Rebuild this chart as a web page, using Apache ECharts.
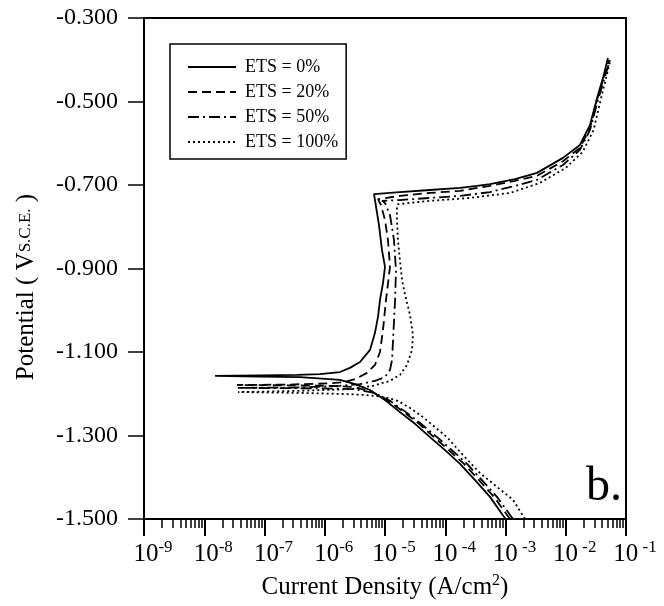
<!DOCTYPE html>
<html>
<head>
<meta charset="utf-8">
<script src="https://cdn.jsdelivr.net/npm/echarts@6/dist/echarts.min.js"></script>
<style>
html,body{margin:0;padding:0;background:#fff;}
#chart{width:664px;height:606px;}
</style>
</head>
<body>
<div id="chart"></div>
<script>
// ---- data: [current density (A/cm2), potential (V vs SCE)] ----
var seriesNames = ['ETS = 0%', 'ETS = 20%', 'ETS = 50%', 'ETS = 100%'];
var xTickExponents = [-9, -8, -7, -6, -5, -4, -3, -2, -1];
var yTicks = [-1.5, -1.3, -1.1, -0.9, -0.7, -0.5, -0.3];

var ets0 = [
  [1.0e-3,-1.500],[5.53e-4,-1.447],[3.12e-4,-1.407],[1.76e-4,-1.368],[9.91e-5,-1.335],
  [5.58e-5,-1.304],[3.15e-5,-1.272],[1.77e-5,-1.244],[1.0e-5,-1.215],[5.64e-6,-1.191],
  [3.18e-6,-1.177],[1.79e-6,-1.167],[3.88e-7,-1.160],[8.42e-8,-1.159],[1.51e-8,-1.157],
  [8.42e-8,-1.156],[3.46e-7,-1.155],[8.34e-7,-1.153],[1.79e-6,-1.148],[2.62e-6,-1.138],
  [3.85e-6,-1.124],[5.64e-6,-1.095],[6.82e-6,-1.054],[7.65e-6,-1.016],[8.26e-6,-0.975],
  [9.26e-6,-0.935],[1.0e-5,-0.896],[8.92e-6,-0.856],[7.95e-6,-0.796],[6.82e-6,-0.736],
  [6.57e-6,-0.722],[1.77e-5,-0.717],[5.58e-5,-0.712],[1.76e-4,-0.707],[3.37e-4,-0.702],
  [5.53e-4,-0.698],[8.10e-4,-0.693],[1.44e-3,-0.686],[3.33e-3,-0.671],[9.00e-3,-0.635],
  [1.72e-2,-0.604],[2.53e-2,-0.556],[3.30e-2,-0.492],[4.15e-2,-0.444],[5.02e-2,-0.396]
];
var ets20 = [
  [1.19e-3,-1.500],[6.44e-4,-1.447],[3.63e-4,-1.407],[2.05e-4,-1.368],[1.15e-4,-1.335],
  [6.50e-5,-1.304],[3.67e-5,-1.272],[2.07e-5,-1.244],[1.12e-5,-1.217],[6.08e-6,-1.196],
  [3.18e-6,-1.184],[1.22e-6,-1.181],[2.65e-7,-1.180],[3.50e-8,-1.179],
  [2.65e-7,-1.178],[1.22e-6,-1.175],[2.17e-6,-1.172],[3.18e-6,-1.165],[5.03e-6,-1.150],
  [6.82e-6,-1.131],[8.26e-6,-1.100],[9.26e-6,-1.047],[1.04e-5,-0.975],[1.21e-5,-0.896],
  [1.12e-5,-0.832],[1.0e-5,-0.784],[8.58e-6,-0.748],[7.65e-6,-0.734],[1.77e-5,-0.726],
  [5.58e-5,-0.719],[1.76e-4,-0.714],[5.53e-4,-0.702],[1.44e-3,-0.690],[3.33e-3,-0.678],
  [9.00e-3,-0.643],[1.72e-2,-0.611],[2.53e-2,-0.563],[3.30e-2,-0.496],[4.15e-2,-0.449],
  [5.22e-2,-0.401]
];
var ets50 = [
  [1.33e-3,-1.500],[7.22e-4,-1.447],[4.07e-4,-1.407],[2.30e-4,-1.368],[1.29e-4,-1.335],
  [7.30e-5,-1.304],[3.96e-5,-1.272],[2.23e-5,-1.244],[1.21e-5,-1.217],[6.57e-6,-1.198],
  [3.18e-6,-1.189],[8.34e-7,-1.187],[3.50e-8,-1.186],
  [3.88e-7,-1.185],[1.79e-6,-1.181],[3.85e-6,-1.177],[6.82e-6,-1.169],[1.0e-5,-1.160],
  [1.21e-5,-1.143],[1.31e-5,-1.119],[1.36e-5,-1.071],[1.47e-5,-0.975],[1.52e-5,-0.904],
  [1.41e-5,-0.832],[1.21e-5,-0.772],[1.0e-5,-0.743],[8.92e-6,-0.738],[1.77e-5,-0.736],
  [5.58e-5,-0.731],[1.76e-4,-0.726],[5.53e-4,-0.717],[1.44e-3,-0.702],[3.33e-3,-0.688],
  [9.00e-3,-0.652],[1.72e-2,-0.616],[2.53e-2,-0.568],[3.43e-2,-0.496],[4.3e-2,-0.449],
  [5.43e-2,-0.401]
];
var ets100 = [
  [2.1e-3,-1.500],[1.33e-3,-1.454],[7.22e-4,-1.423],[3.77e-4,-1.390],[1.97e-4,-1.347],
  [1.07e-4,-1.304],[6.76e-5,-1.280],[4.27e-5,-1.256],[2.60e-5,-1.234],[1.64e-5,-1.217],
  [1.0e-5,-1.208],[4.66e-6,-1.203],[2.62e-6,-1.201],[3.88e-7,-1.198],[3.63e-8,-1.196],
  [3.88e-7,-1.193],[2.62e-6,-1.189],[6.32e-6,-1.181],[1.21e-5,-1.169],[1.77e-5,-1.155],
  [2.32e-5,-1.131],[2.81e-5,-1.095],[2.91e-5,-1.059],[2.60e-5,-1.011],[2.15e-5,-0.963],
  [1.92e-5,-0.928],[1.77e-5,-0.880],[1.64e-5,-0.832],[1.58e-5,-0.784],[1.58e-5,-0.753],
  [1.64e-5,-0.746],[5.58e-5,-0.738],[2.57e-4,-0.731],[1.19e-3,-0.719],[3.74e-3,-0.695],
  [1.0e-2,-0.659],[1.9e-2,-0.621],[2.9e-2,-0.568],[3.8e-2,-0.496],[5.43e-2,-0.405]
];
var allSeries = [ets0, ets20, ets50, ets100];
var dashTypes = ['solid', [9, 5], [11, 4, 2, 4], [2, 3]];

// minor tick positions (log10 of 2..9 within each decade)
var minorTicks = [];
for (var d = -9; d < -1; d++) {
  for (var k = 2; k <= 9; k++) minorTicks.push(d + Math.log10(k));
}

var FONT = '"Liberation Serif", "Times New Roman", serif';
var chart = echarts.init(document.getElementById('chart'));

var series = allSeries.map(function (data, idx) {
  return {
    name: seriesNames[idx],
    type: 'line',
    xAxisIndex: 0,
    yAxisIndex: 0,
    data: data,
    symbol: 'none',
    showSymbol: false,
    animation: false,
    lineStyle: { color: '#000', width: 1.8, type: dashTypes[idx] },
    itemStyle: { color: '#000' }
  };
});

chart.setOption({
  backgroundColor: '#fff',
  animation: false,
  grid: {
    left: 144, right: 38, top: 18, bottom: 87,
    containLabel: false,
    outerBoundsMode: 'none',
    show: true, borderColor: '#000', borderWidth: 2, backgroundColor: 'transparent'
  },
  legend: {
    data: seriesNames,
    orient: 'vertical',
    left: 170, top: 44,
    itemWidth: 48, itemHeight: 20, itemGap: 7,
    padding: [14, 8, 8, 17],
    borderColor: '#000', borderWidth: 1.5,
    backgroundColor: '#fff',
    itemStyle: { color: 'rgba(0,0,0,0)', borderWidth: 0, opacity: 0 },
    textStyle: { fontFamily: FONT, fontSize: 18, color: '#000', padding: [0, 0, 0, 4] },
    selectedMode: false
  },
  xAxis: [
    {
      type: 'log', logBase: 10, min: 1e-9, max: 1e-1,
      gridIndex: 0,
      axisLine: { show: false }, axisTick: { show: false },
      axisLabel: { show: false }, splitLine: { show: false }
    },
    {
      type: 'value', min: -9, max: -1, interval: 1,
      gridIndex: 0, position: 'bottom',
      axisLine: { show: true, onZero: false, lineStyle: { color: '#000', width: 2 } },
      axisTick: { show: true, inside: false, length: 17, lineStyle: { color: '#000', width: 2 } },
      splitLine: { show: false },
      axisLabel: {
        margin: 20,
        formatter: function (v) {
          var s = String(Math.round(v));
          var sp = Math.round(v) >= -5 ? ' ' : '';
          return '{p|}{b|10}{s|' + sp + s + '}';
        },
        rich: {
          p: { width: 18 },
          b: { fontFamily: FONT, fontSize: 25, color: '#000', verticalAlign: 'bottom', lineHeight: 28 },
          s: { fontFamily: FONT, fontSize: 17, color: '#000', verticalAlign: 'top', lineHeight: 28, padding: [0, 0, 12, 0] }
        }
      },
      name: '{t|Current Density (A/cm}{u|2}{t|)}',
      nameLocation: 'middle',
      nameGap: 53,
      nameTextStyle: {
        rich: {
          t: { fontFamily: FONT, fontSize: 25, color: '#000', lineHeight: 30 },
          u: { fontFamily: FONT, fontSize: 16, color: '#000', lineHeight: 30, padding: [0, 0, 12, 0] }
        }
      }
    },
    {
      type: 'value', min: -9, max: -1,
      gridIndex: 0, position: 'bottom',
      axisLine: { show: false, onZero: false },
      axisTick: { show: true, inside: false, length: 9, customValues: minorTicks, lineStyle: { color: '#000', width: 1.5 } },
      axisLabel: { show: false },
      splitLine: { show: false }
    }
  ],
  yAxis: [
    {
      type: 'value', min: -1.5, max: -0.3, interval: 0.2,
      axisLine: { show: true, onZero: false, lineStyle: { color: '#000', width: 2 } },
      axisTick: { show: true, inside: false, length: 16, lineStyle: { color: '#000', width: 1.5 } },
      splitLine: { show: false },
      axisLabel: {
        margin: 26,
        fontFamily: FONT, fontSize: 24, color: '#000',
        formatter: function (v) { return v.toFixed(3); }
      }
    }
  ],
  graphic: [
    {
      type: 'text',
      x: 26, y: 287,
      rotation: Math.PI / 2,
      style: {
        text: '{t|Potential ( V}{s|S.C.E.}{t| )}',
        align: 'center', verticalAlign: 'middle',
        rich: {
          t: { fontFamily: FONT, fontSize: 25, fill: '#000' },
          s: { fontFamily: FONT, fontSize: 17, fill: '#000' }
        }
      }
    },
    {
      type: 'text',
      x: 604, y: 487,
      style: {
        text: 'b.',
        font: '48px ' + FONT,
        fill: '#000',
        align: 'center', verticalAlign: 'middle'
      }
    }
  ],
  series: series
});
</script>
</body>
</html>
